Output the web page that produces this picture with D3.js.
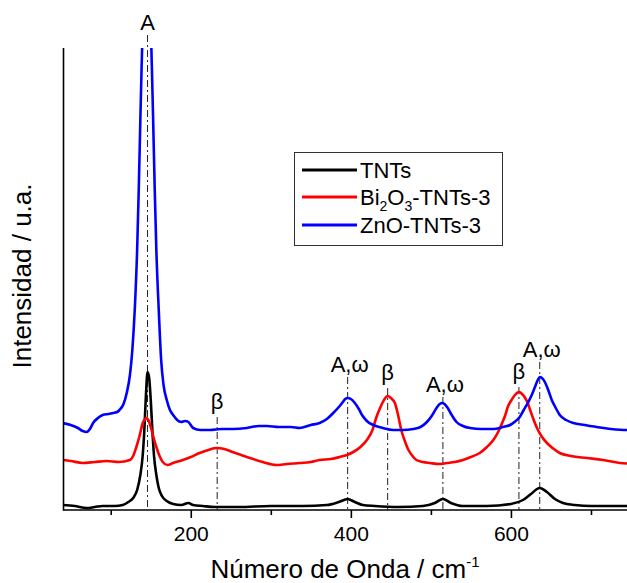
<!DOCTYPE html>
<html>
<head>
<meta charset="utf-8">
<script src="https://cdn.jsdelivr.net/npm/d3@7"></script>
<style>
  html, body { margin: 0; padding: 0; background: #fff; }
  svg { display: block; }
  text { font-family: Arial, "Liberation Sans", sans-serif; }
</style>
</head>
<body>
<script>
// ---- data (wavenumber cm-1, intensity a.u.) ----
const tntsData = [[40,5],[55,4],[70,2],[80,3],[90,4],[105,4],[115,5],[122,8],[128,12],[133,20],[137,35],[140,55],[142,80],[144,115],[146,138],[148,132],[150,110],[152,80],[154,55],[157,35],[160,22],[164,14],[170,9],[178,6],[188,5],[197,7],[203,5],[215,4],[230,3],[260,3],[300,4],[340,4],[370,5],[385,8],[396,11],[405,8],[415,5],[430,4],[460,3],[490,4],[505,7],[515,11],[525,7],[540,4],[570,4],[600,6],[615,10],[625,16],[636,22],[645,18],[655,11],[665,7],[680,5],[700,4],[730,4],[760,4]];

const bi2o3Data = [[40,50],[50,49],[65,47],[80,48],[95,49],[110,48],[124,50],[128,54],[132,63],[136,74],[140,87],[143,91],[145,92],[147,90],[151,80],[154,71],[157,63],[161,54],[165,48],[171,45],[178,47],[190,50],[200,53],[211,57],[222,60],[232,62],[242,61],[252,58],[263,55],[274,52],[290,48],[307,45],[320,46],[336,47],[350,48],[361,50],[375,51],[386,53],[395,55],[403,58],[412,63],[420,70],[427,80],[432,93],[436,101],[440,108],[443,112],[446,114],[450,112],[455,107],[459,95],[463,80],[467,70],[472,60],[477,54],[482,50],[490,48],[499,47],[510,46],[520,47],[530,48],[540,50],[550,53],[561,57],[570,63],[578,70],[584,78],[589,87],[593,95],[596,103],[600,109],[605,115],[610,118],[614,116],[617,113],[621,107],[624,100],[628,91],[632,83],[638,74],[645,67],[652,62],[661,57],[675,54],[695,52],[715,50],[736,47],[760,46]];

const znoData = [[40,87],[50,85],[59,82],[65,79],[70,78],[74,81],[78,87],[84,92],[90,95],[97,96],[103,97],[108,98],[111,100],[116,106],[120,117],[124,135],[127,160],[130,200],[133,260],[135,320],[137,390],[138.5,440],[140,485],[145,640],[150,485],[151.5,440],[153,390],[155,320],[157,260],[160,200],[163,150],[166,125],[170,110],[174,100],[178,95],[183,90],[188,88],[193,89],[197,88],[203,82],[212,80],[224,80],[238,81],[253,81],[270,82],[285,84],[295,84],[310,83],[325,83],[336,82],[350,85],[361,87],[370,91],[378,97],[385,103],[390,108],[393,111],[396,112],[400,111],[405,107],[410,101],[414,95],[420,89],[428,85],[440,82],[453,80],[465,80],[478,81],[487,83],[495,88],[501,94],[507,102],[511,106],[514,107],[517,106],[521,102],[526,95],[532,88],[540,84],[549,82],[563,81],[578,81],[590,83],[599,85],[606,89],[611,93],[616,100],[621,107],[626,115],[630,123],[633,129],[636,133],[640,131],[643,127],[647,119],[651,110],[656,102],[661,95],[669,90],[678,87],[692,85],[707,83],[725,81],[745,80],[760,80]];

const seriesNames = ["TNTs", "Bi2O3-TNTs-3", "ZnO-TNTs-3"];
const seriesColors = ["#000000", "#ff0000", "#0000ff"];

const peakPositions = [146, 233, 396, 446, 515, 610, 636];
const peakLabels = ["A", "β", "A,ω", "β", "A,ω", "β", "A,ω"];
const peakLabelLevels = [480, 101, 138, 130, 118, 131, 153];

const xTickValues = [200, 400, 600];
const xMinorTickValues = [100, 300, 500, 700];

// ---- layout ----
const W = 627, H = 583;
const padL = 63.5, padB = 510, padT = 48;

const svg = d3.select("body").append("svg").attr("width", W).attr("height", H);

const x = d3.scaleLinear().domain([41, 760]).range([padL, 31 + 0.8 * 760]);
const y = d3.scaleLinear().domain([0, 462]).range([padB, padT]);

svg.append("defs").append("clipPath").attr("id", "plotclip")
  .append("rect").attr("x", padL).attr("y", padT).attr("width", W - padL).attr("height", padB - padT);

// dash-dot reference lines
const g = svg.append("g");
peakPositions.forEach((p, i) => {
  const isBeta = peakLabels[i] === "β";
  const y0 = y(peakLabelLevels[i]) + (isBeta ? 8 : 5);
  g.append("line")
    .attr("x1", x(p)).attr("x2", x(p))
    .attr("y1", y0).attr("y2", padB)
    .attr("stroke", "#222").attr("stroke-width", 1)
    .attr("stroke-dasharray", "7,3,2,3");
  g.append("text")
    .attr("x", x(p) + (peakLabels[i].length > 1 ? 2 : 0)).attr("y", y(peakLabelLevels[i]))
    .attr("text-anchor", "middle")
    .attr("font-size", 22)
    .text(peakLabels[i]);
});

// series lines
const line = d3.line().x(d => x(d[0])).y(d => y(d[1])).curve(d3.curveMonotoneX);
const plot = svg.append("g").attr("clip-path", "url(#plotclip)");
[tntsData, bi2o3Data, znoData].forEach((data, i) => {
  plot.append("path").datum(data)
    .attr("fill", "none")
    .attr("stroke", seriesColors[i])
    .attr("stroke-width", 2.6)
    .attr("stroke-linejoin", "round")
    .attr("d", line);
});

// axes
const xAxis = d3.axisBottom(x).tickValues(xTickValues).tickSize(8).tickPadding(8).tickFormat(d3.format("d"));
const gx = svg.append("g").attr("transform", `translate(0,${padB})`).call(xAxis);
gx.select(".domain").attr("stroke-width", 1.6).attr("d", `M${padL},0H${W}`);
gx.selectAll(".tick line").attr("stroke-width", 1.6);
gx.selectAll(".tick text").attr("font-size", 21).attr("font-family", "Arial, 'Liberation Sans', sans-serif").attr("fill", "#000");
const xMinor = d3.axisBottom(x).tickValues(xMinorTickValues).tickSize(5).tickFormat("");
const gxm = svg.append("g").attr("transform", `translate(0,${padB})`).call(xMinor);
gxm.select(".domain").remove();
gxm.selectAll(".tick line").attr("stroke-width", 1.6);

svg.append("line").attr("x1", padL).attr("x2", padL).attr("y1", padT).attr("y2", padB + 0.8)
  .attr("stroke", "#000").attr("stroke-width", 1.6);

// axis titles
const xt = svg.append("text").attr("x", 345).attr("y", 578).attr("text-anchor", "middle").attr("font-size", 26);
xt.append("tspan").text("Número de Onda / cm");
xt.append("tspan").attr("dy", -11).attr("font-size", 15).text("-1");

svg.append("text").attr("transform", "translate(31,276) rotate(-90)")
  .attr("text-anchor", "middle").attr("font-size", 26).text("Intensidad / u.a.");

// legend
const lg = svg.append("g");
lg.append("rect").attr("x", 294.5).attr("y", 152.5).attr("width", 208).attr("height", 93)
  .attr("fill", "#fff").attr("stroke", "#333").attr("stroke-width", 1);
const rows = [170, 197, 225];
seriesNames.forEach((name, i) => {
  lg.append("line").attr("x1", 302).attr("x2", 357).attr("y1", rows[i]).attr("y2", rows[i])
    .attr("stroke", seriesColors[i]).attr("stroke-width", 3);
  const t = lg.append("text").attr("x", 360).attr("y", rows[i] + 8).attr("font-size", 22);
  if (name === "Bi2O3-TNTs-3") {
    t.append("tspan").text("Bi");
    t.append("tspan").attr("font-size", 14).attr("dy", 6).text("2");
    t.append("tspan").attr("dy", -6).text("O");
    t.append("tspan").attr("font-size", 14).attr("dy", 6).text("3");
    t.append("tspan").attr("dy", -6).text("-TNTs-3");
  } else {
    t.text(name);
  }
});
</script>
</body>
</html>
